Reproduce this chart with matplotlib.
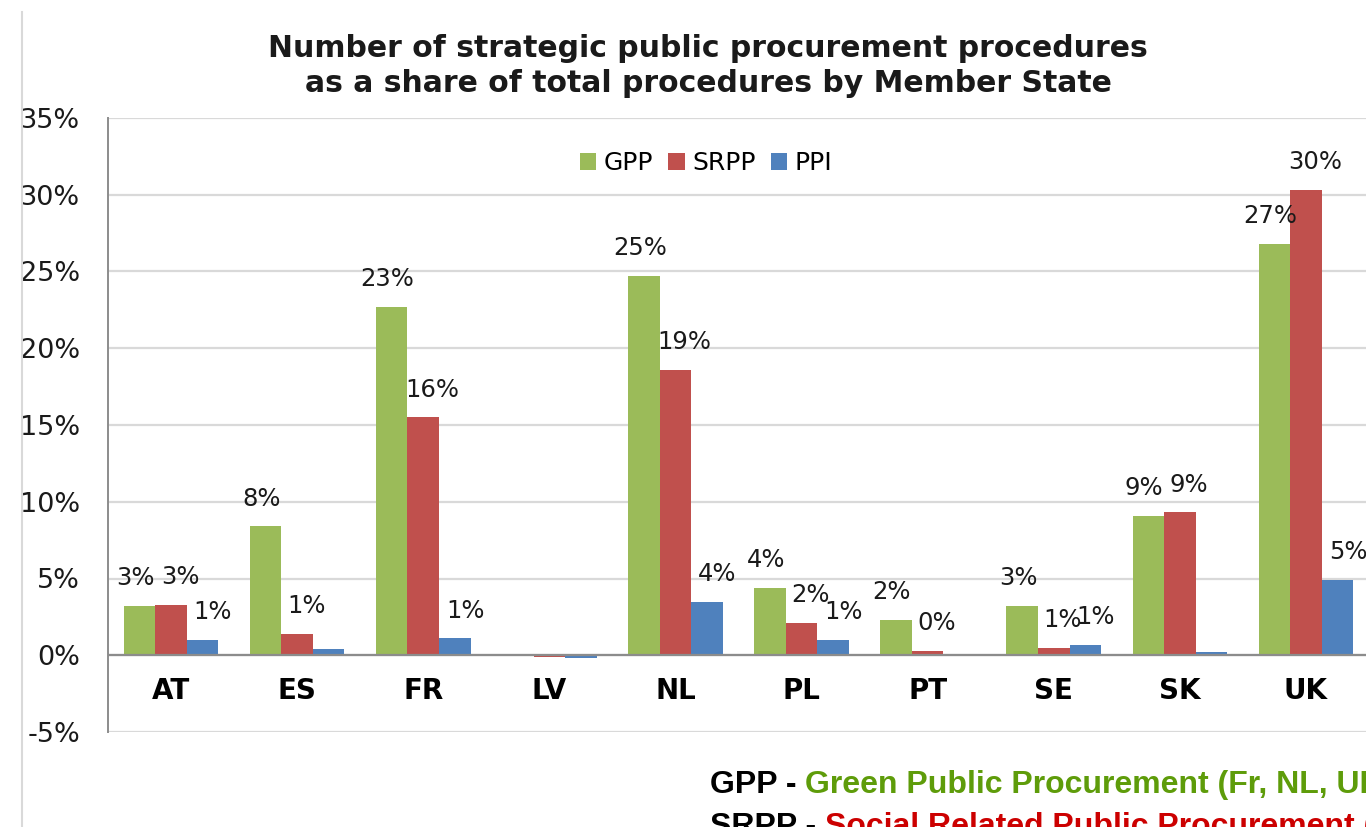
import numpy as np
import matplotlib.pyplot as plt
from matplotlib.lines import Line2D

# ----------------------------------------------------
# Data
# ----------------------------------------------------

countries = ["AT", "ES", "FR", "LV", "NL", "PL", "PT", "SE", "SK", "UK"]

gpp = [3.2, 8.4, 22.7, 0.1, 24.7, 4.4, 2.3, 3.2, 9.1, 26.8]
srpp = [3.3, 1.4, 15.5, -0.1, 18.6, 2.1, 0.3, 0.5, 9.3, 30.3]
ppi = [1.0, 0.4, 1.1, -0.15, 3.5, 1.0, 0.1, 0.7, 0.2, 4.9]

gpp_labels = ["3%", "8%", "23%", None, "25%", "4%", "2%", "3%", "9%", "27%"]
srpp_labels = ["3%", "1%", "16%", None, "19%", "2%", "0%", "1%", "9%", "30%"]
ppi_labels = ["1%", None, "1%", None, "4%", "1%", None, "1%", None, "5%"]

series_names = ["GPP", "SRPP", "PPI"]
colors = ["#9BBB59", "#C0504D", "#4F81BD"]

yticks = [-5, 0, 5, 10, 15, 20, 25, 30, 35]

# ----------------------------------------------------
# Figure
# ----------------------------------------------------

W, H = 1366, 827
fig = plt.figure(figsize=(W / 100, H / 100), dpi=100)

ax = fig.add_axes([108 / W, 1 - 732 / H, (1369 - 108) / W, (732 - 118) / H])

x = np.arange(len(countries))
bw = 0.25

all_series = [gpp, srpp, ppi]
all_labels = [gpp_labels, srpp_labels, ppi_labels]
label_dx = [-3, 6.5, 7.5]   # Excel nudges the labels sideways a bit

for k in range(3):
    xs = x + (k - 1) * bw
    ax.bar(xs, all_series[k], width=bw, color=colors[k],
           label=series_names[k], zorder=3)
    for xi, v, lab in zip(xs, all_series[k], all_labels[k]):
        if lab is None:
            continue
        ax.annotate(lab, xy=(xi, v), xytext=(label_dx[k], 20),
                    textcoords="offset points", ha="center", va="center",
                    fontsize=17.5, color="#1a1a1a", zorder=4)

# category names just under the zero line
for xi, c in zip(x, countries):
    ax.annotate(c, xy=(xi, 0), xytext=(0, -26), textcoords="offset points",
                ha="center", va="center", fontsize=20, fontweight="bold",
                color="black")

ax.set_xlim(-0.5, len(countries) - 0.5)
ax.set_ylim(-5, 35)
ax.set_yticks(yticks)
ax.set_yticklabels([f"{t}%" for t in yticks], fontsize=19.5, color="#1a1a1a")
ax.set_xticks([])
ax.tick_params(axis="y", length=0, pad=20)

ax.grid(axis="y", color="#d9d9d9", linewidth=1.6, zorder=0)
ax.axhline(0, color="#8c8c8c", linewidth=1.6, zorder=3.5)

for s in ["top", "right", "bottom"]:
    ax.spines[s].set_visible(False)
ax.spines["left"].set_color("#8c8c8c")
ax.spines["left"].set_linewidth(1.4)

# legend
ax.legend(loc="center", bbox_to_anchor=(706 / W, 1 - 163 / H),
          bbox_transform=fig.transFigure, ncol=3, frameon=False,
          fontsize=18, handlelength=0.65, handleheight=0.65,
          handletextpad=0.3, columnspacing=0.6, borderpad=0)

# title
fig.text(708 / W, 1 - 66 / H,
         "Number of strategic public procurement procedures\n"
         "as a share of total procedures by Member State",
         ha="center", va="center", fontsize=21.5, fontweight="bold",
         linespacing=1.27, color="#1a1a1a")

# chart border on the left
fig.add_artist(Line2D([22 / W, 22 / W], [0, 1 - 12 / H],
                      transform=fig.transFigure, color="#d9d9d9", lw=1.5))

# notes below the chart
note_font = dict(fontsize=23, fontweight="bold", family="Liberation Sans")

t1 = fig.text(710 / W, 1 - 793 / H, "GPP - ", ha="left", va="baseline",
              **note_font)
ax.annotate("Green Public Procurement (Fr, NL, UK)", xy=(1, 0),
            xycoords=t1, va="bottom", ha="left", color="#5e9c0a",
            annotation_clip=False, **note_font)

t2 = fig.text(710 / W, 1 - 835 / H, "SRPP - ", ha="left", va="baseline",
              **note_font)
ax.annotate("Social Related Public Procurement (Fr, NL, UK)", xy=(1, 0),
            xycoords=t2, va="bottom", ha="left", color="#cc0000",
            annotation_clip=False, **note_font)

fig.savefig("out.png", dpi=100)
